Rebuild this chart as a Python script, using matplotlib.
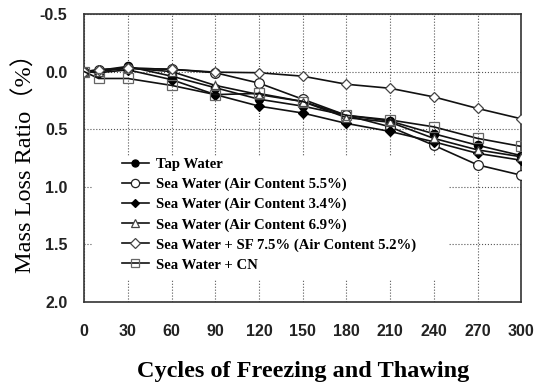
import matplotlib
matplotlib.use('Agg')
import matplotlib.pyplot as plt
from matplotlib.patches import Rectangle
from matplotlib.ticker import FuncFormatter

# cycles of freezing and thawing
cycles = [0, 10, 30, 60, 90, 120, 150, 180, 210, 240, 270, 300]

# mass loss ratio (%)
tap_water = [0, -0.01, -0.045, 0.04, 0.14, 0.24, 0.30, 0.38, 0.43, 0.54, 0.64, 0.73]
sea_55 = [0, -0.015, -0.03, -0.02, 0.01, 0.10, 0.24, 0.38, 0.48, 0.64, 0.81, 0.90]
sea_34 = [0, 0.01, -0.015, 0.07, 0.20, 0.30, 0.36, 0.45, 0.52, 0.61, 0.71, 0.77]
sea_69 = [0, 0.0, -0.03, 0.0, 0.12, 0.20, 0.26, 0.40, 0.44, 0.58, 0.68, 0.74]
sea_sf = [0, -0.015, -0.03, -0.02, 0.005, 0.01, 0.04, 0.11, 0.145, 0.22, 0.32, 0.41]
sea_cn = [0, 0.06, 0.06, 0.12, 0.20, 0.19, 0.26, 0.38, 0.42, 0.48, 0.58, 0.65]

labels = ['Tap Water', 'Sea Water (Air Content 5.5%)', 'Sea Water (Air Content 3.4%)',
          'Sea Water (Air Content 6.9%)', 'Sea Water + SF 7.5% (Air Content 5.2%)',
          'Sea Water + CN']

x_ticks = list(range(0, 301, 30))
y_ticks = [-0.5, 0.0, 0.5, 1.0, 1.5, 2.0]

fig = plt.figure(figsize=(5.39, 3.89), dpi=100)
ax = fig.add_axes([0.156, 0.224, 0.811, 0.740])

series = [tap_water, sea_55, sea_34, sea_69, sea_sf, sea_cn]
styles = [
    dict(marker='o', mfc='black', mec='black', ms=6),
    dict(marker='o', mfc='white', mec='#222222', ms=7),
    dict(marker='D', mfc='black', mec='black', ms=5),
    dict(marker='^', mfc='white', mec='#444444', ms=6),
    dict(marker='D', mfc='white', mec='#444444', ms=5.5),
    dict(marker='s', mfc='none', mec='#666666', ms=7),
]
for vals, lab, st in zip(series, labels, styles):
    ax.plot(cycles, vals, color='#111111', lw=1.2, label=lab, mew=0.9, zorder=3, **st)

ax.set_xlim(0, 300)
ax.set_ylim(2.0, -0.5)
ax.set_xticks(x_ticks)
ax.set_yticks(y_ticks)
ax.yaxis.set_major_formatter(FuncFormatter(lambda v, p: '%.1f' % v))
ax.grid(True, color='#555555', ls=':', lw=0.8)
ax.set_axisbelow(True)
ax.tick_params(length=0, labelsize=11.5)
ax.tick_params(axis='y', pad=12)
ax.tick_params(axis='x', pad=16)
for lbl in ax.get_xticklabels() + ax.get_yticklabels():
    lbl.set_fontfamily('Liberation Sans')
    lbl.set_fontweight('bold')
    lbl.set_color('#222222')
for s in ax.spines.values():
    s.set_color('#333333')
    s.set_linewidth(1.2)

# white background behind legend
ax.add_patch(Rectangle((0.018, 0.076), 0.815, 0.427, transform=ax.transAxes,
                       facecolor='white', edgecolor='none', zorder=1.5))

leg = ax.legend(loc='upper left', bbox_to_anchor=(0.087, 0.5), frameon=False,
                borderaxespad=0, borderpad=0, labelspacing=0.45, handlelength=1.8,
                handletextpad=0.5, markerscale=0.85,
                prop={'family': 'Liberation Serif', 'weight': 'bold', 'size': 10.6})

ax.set_xlabel('Cycles of Freezing and Thawing', family='Liberation Serif',
              fontweight='bold', fontsize=17.5, labelpad=16)
ax.set_ylabel('Mass Loss Ratio（%）', family=['Liberation Serif', 'Noto Sans CJK JP'],
              fontsize=17.5, labelpad=2)

fig.savefig('out.png', dpi=100)
